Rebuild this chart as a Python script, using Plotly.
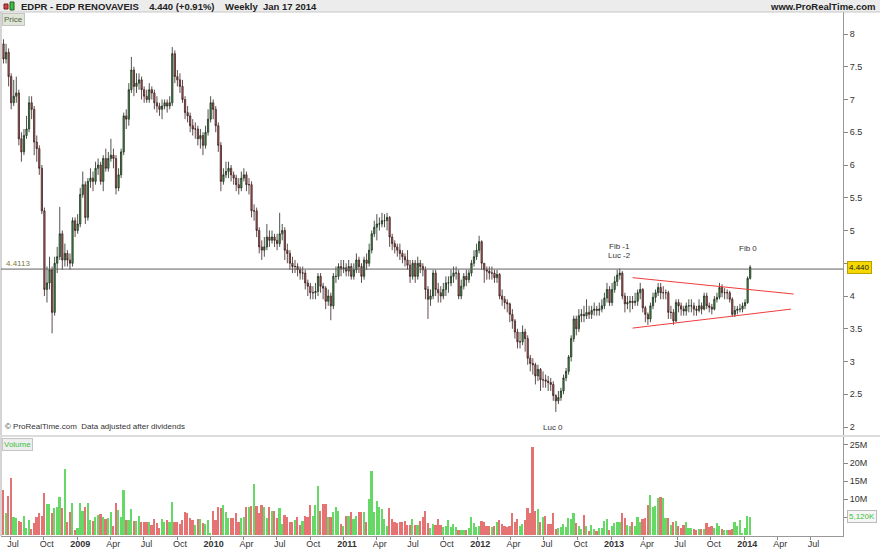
import plotly.graph_objects as go
import pandas as pd

# ---------------- data (weekly, EDPR) ----------------
opens = [7.85,7.62,7.72,7.35,6.95,7.05,7.10,6.40,6.20,6.45,
6.55,6.95,6.85,6.35,6.25,5.95,5.30,4.10,4.20,4.40,
3.75,4.50,4.60,4.95,4.55,4.65,4.55,4.50,5.15,5.00,
5.10,5.55,5.70,5.20,5.75,5.80,5.75,5.95,6.00,5.75,
6.10,5.95,6.10,6.15,6.10,5.65,5.85,6.20,6.75,6.70,
7.15,7.45,7.20,7.25,7.30,7.15,7.05,7.00,7.15,7.10,
6.95,6.90,6.85,6.90,6.95,6.90,6.95,7.70,7.35,7.30,
7.20,7.00,6.80,6.75,6.60,6.55,6.55,6.40,6.45,6.30,
6.50,6.70,6.95,6.85,6.60,6.30,5.75,5.85,5.90,5.95,
5.85,5.80,5.70,5.65,5.80,5.85,5.70,5.70,5.30,5.30,
5.00,4.75,4.70,4.75,4.90,4.85,4.90,4.85,4.80,4.95,
5.00,4.70,4.65,4.50,4.45,4.45,4.40,4.35,4.35,4.20,
4.15,4.05,4.05,4.07,4.30,4.15,4.12,3.92,4.00,3.85,
4.30,4.30,4.45,4.42,4.43,4.38,4.45,4.30,4.40,4.55,
4.45,4.30,4.55,4.50,4.70,4.95,5.05,5.10,5.10,5.15,
5.15,5.20,4.90,4.80,4.75,4.70,4.65,4.60,4.55,4.47,
4.30,4.50,4.30,4.50,4.45,4.40,4.10,3.95,4.00,4.35,
4.10,4.05,4.00,4.10,4.20,4.20,4.30,4.35,4.35,4.00,
4.15,4.30,4.25,4.35,4.50,4.60,4.70,4.83,4.50,4.40,
4.38,4.35,4.35,4.28,4.33,4.00,3.95,3.90,3.88,3.72,
3.62,3.45,3.30,3.30,3.45,3.35,3.05,2.97,2.95,2.78,
2.88,2.72,2.72,2.70,2.68,2.65,2.48,2.40,2.45,2.55,
2.75,2.85,3.07,3.35,3.65,3.50,3.70,3.72,3.70,3.75,
3.72,3.78,3.80,3.78,3.80,3.85,3.97,4.10,3.90,4.10,
4.22,4.32,4.35,4.00,3.88,3.90,3.92,3.90,3.92,4.05,
4.10,3.82,3.72,3.65,3.85,3.98,4.05,4.13,4.05,4.05,
4.05,3.75,3.75,3.62,3.90,3.85,3.80,3.77,3.85,3.85,
3.85,3.80,3.78,3.85,3.80,4.00,3.85,3.83,3.80,3.95,
3.98,4.13,4.05,4.05,4.05,3.95,3.72,3.78,3.80,3.80,
3.85,3.90,4.27]

closes = [7.62,7.72,7.35,6.95,7.05,7.10,6.40,6.20,6.45,6.55,
6.95,6.85,6.35,6.25,5.95,5.30,4.10,4.20,4.40,3.75,
4.50,4.60,4.95,4.55,4.65,4.55,4.50,5.15,5.00,5.10,
5.55,5.70,5.20,5.75,5.80,5.75,5.95,6.00,5.75,6.10,
5.95,6.10,6.15,6.10,5.65,5.85,6.20,6.75,6.70,7.15,
7.45,7.20,7.25,7.30,7.15,7.05,7.00,7.15,7.10,6.95,
6.90,6.85,6.90,6.95,6.90,6.95,7.70,7.35,7.30,7.20,
7.00,6.80,6.75,6.60,6.55,6.55,6.40,6.45,6.30,6.50,
6.70,6.95,6.85,6.60,6.30,5.75,5.85,5.90,5.95,5.85,
5.80,5.70,5.65,5.80,5.85,5.70,5.70,5.30,5.30,5.00,
4.75,4.70,4.75,4.90,4.85,4.90,4.85,4.80,4.95,5.00,
4.70,4.65,4.50,4.45,4.45,4.40,4.35,4.35,4.20,4.15,
4.05,4.05,4.07,4.30,4.15,4.12,3.92,4.00,3.85,4.30,
4.30,4.45,4.42,4.43,4.38,4.45,4.30,4.40,4.55,4.45,
4.30,4.55,4.50,4.70,4.95,5.05,5.10,5.10,5.15,5.15,
5.20,4.90,4.80,4.75,4.70,4.65,4.60,4.55,4.47,4.30,
4.50,4.30,4.50,4.45,4.40,4.10,3.95,4.00,4.35,4.10,
4.05,4.00,4.10,4.20,4.20,4.30,4.35,4.35,4.00,4.15,
4.30,4.25,4.35,4.50,4.60,4.70,4.83,4.50,4.40,4.38,
4.35,4.35,4.28,4.33,4.00,3.95,3.90,3.88,3.72,3.62,
3.45,3.30,3.30,3.45,3.35,3.05,2.97,2.95,2.78,2.88,
2.72,2.72,2.70,2.68,2.65,2.48,2.40,2.45,2.55,2.75,
2.85,3.07,3.35,3.65,3.50,3.70,3.72,3.70,3.75,3.72,
3.78,3.80,3.78,3.80,3.85,3.97,4.10,3.90,4.10,4.22,
4.32,4.35,4.00,3.88,3.90,3.92,3.90,3.92,4.05,4.10,
3.82,3.72,3.65,3.85,3.98,4.05,4.13,4.05,4.05,4.05,
3.75,3.75,3.62,3.90,3.85,3.80,3.77,3.85,3.85,3.85,
3.80,3.78,3.85,3.80,4.00,3.85,3.83,3.80,3.95,3.98,
4.13,4.05,4.05,4.05,3.95,3.72,3.78,3.80,3.80,3.85,
3.90,4.27,4.44]

highs = [7.92,7.85,7.78,7.40,7.30,7.35,7.15,6.50,6.55,6.75,
7.05,7.05,6.90,6.45,6.30,6.00,5.35,4.45,4.60,4.45,
4.60,4.75,5.36,5.00,4.80,4.70,4.65,5.20,5.20,5.25,
5.65,5.90,5.75,5.80,5.95,5.90,6.05,6.10,6.05,6.15,
6.25,6.20,6.40,6.25,6.15,5.95,6.25,6.80,6.85,7.25,
7.65,7.50,7.40,7.40,7.35,7.20,7.15,7.25,7.20,7.15,
7.05,6.95,7.00,7.00,7.00,7.05,7.80,7.75,7.45,7.40,
7.30,7.05,6.90,6.80,6.70,6.65,6.60,6.55,6.50,6.60,
6.85,7.05,7.00,6.90,6.65,6.35,5.95,6.05,6.05,6.00,
5.90,5.85,5.80,5.90,5.95,5.90,5.80,5.75,5.40,5.35,
5.05,4.85,4.90,5.10,5.00,5.00,4.95,4.95,5.27,5.10,
5.05,4.80,4.70,4.60,4.55,4.50,4.45,4.45,4.40,4.25,
4.20,4.15,4.20,4.35,4.35,4.20,4.15,4.10,4.05,4.35,
4.45,4.50,4.55,4.55,4.50,4.55,4.50,4.50,4.65,4.60,
4.50,4.60,4.65,4.80,5.00,5.15,5.25,5.20,5.27,5.25,
5.27,5.22,4.95,4.85,4.80,4.80,4.70,4.65,4.70,4.55,
4.55,4.55,4.60,4.55,4.50,4.45,4.15,4.10,4.40,4.40,
4.20,4.15,4.20,4.30,4.30,4.40,4.45,4.45,4.40,4.25,
4.35,4.40,4.40,4.55,4.70,4.80,4.92,4.85,4.50,4.45,
4.45,4.45,4.40,4.40,4.35,4.10,4.00,3.95,3.90,3.80,
3.65,3.50,3.45,3.55,3.50,3.40,3.10,3.05,2.98,2.95,
2.90,2.85,2.80,2.78,2.75,2.70,2.50,2.55,2.60,2.80,
2.90,3.10,3.40,3.70,3.70,3.80,3.80,3.85,3.95,3.85,
3.85,3.90,3.85,3.90,3.95,4.05,4.20,4.15,4.20,4.30,
4.40,4.42,4.38,4.05,4.00,4.00,4.00,4.05,4.10,4.20,
4.12,3.85,3.75,3.90,4.05,4.10,4.20,4.20,4.15,4.10,
4.08,3.85,3.80,3.95,3.95,3.90,3.85,3.90,3.95,3.95,
3.90,3.85,3.95,3.90,4.05,4.05,3.90,3.88,4.00,4.05,
4.20,4.18,4.12,4.10,4.08,3.98,3.85,3.85,3.88,3.90,
3.95,4.30,4.47]

lows = [7.55,7.55,7.20,6.85,6.90,6.95,6.30,6.05,6.15,6.40,
6.50,6.70,6.15,6.05,5.85,5.25,4.00,3.90,4.10,3.43,
3.70,4.35,4.55,4.40,4.45,4.45,4.40,4.45,4.90,4.95,
5.05,5.50,5.10,5.15,5.65,5.60,5.70,5.85,5.70,5.60,
5.90,5.90,6.05,5.95,5.55,5.60,5.80,6.15,6.55,6.60,
7.10,7.05,7.10,7.15,7.00,6.95,6.95,6.95,7.00,6.85,
6.80,6.75,6.70,6.85,6.80,6.85,6.90,7.25,7.20,7.10,
6.95,6.70,6.65,6.50,6.45,6.40,6.30,6.25,6.15,6.25,
6.45,6.65,6.70,6.50,6.20,5.60,5.70,5.80,5.80,5.75,
5.70,5.60,5.55,5.60,5.75,5.60,5.55,5.20,5.15,4.90,
4.65,4.55,4.60,4.70,4.75,4.80,4.75,4.70,4.75,4.85,
4.55,4.50,4.40,4.35,4.35,4.30,4.25,4.25,4.10,4.00,
3.95,3.95,3.95,4.00,4.05,3.95,3.80,3.85,3.63,3.80,
4.20,4.25,4.30,4.35,4.30,4.30,4.25,4.25,4.35,4.35,
4.20,4.25,4.40,4.45,4.65,4.90,4.85,5.00,5.05,5.05,
5.00,4.75,4.70,4.65,4.60,4.55,4.50,4.45,4.40,4.20,
4.25,4.20,4.25,4.35,4.30,3.95,3.65,3.85,3.95,4.00,
3.90,3.90,3.95,4.00,4.05,4.15,4.20,4.25,3.95,3.95,
4.10,4.15,4.20,4.30,4.45,4.55,4.65,4.40,4.20,4.25,
4.25,4.25,4.20,4.20,3.95,3.85,3.80,3.75,3.60,3.50,
3.35,3.20,3.20,3.25,3.15,2.95,2.85,2.80,2.65,2.70,
2.55,2.60,2.60,2.55,2.55,2.40,2.23,2.35,2.40,2.50,
2.70,2.80,3.00,3.30,3.40,3.45,3.60,3.60,3.65,3.65,
3.65,3.70,3.70,3.70,3.75,3.80,3.90,3.85,3.85,4.05,
4.15,4.25,3.95,3.75,3.80,3.75,3.80,3.85,3.85,3.95,
3.75,3.60,3.56,3.60,3.80,3.90,4.00,3.95,3.95,3.95,
3.65,3.65,3.56,3.60,3.75,3.70,3.70,3.70,3.75,3.75,
3.70,3.70,3.75,3.72,3.78,3.80,3.75,3.72,3.78,3.90,
3.95,3.98,3.95,3.95,3.90,3.68,3.68,3.72,3.75,3.75,
3.80,3.88,4.25]

volumes_m = [12.7,6.1,10.9,15.8,5.0,4.9,4.1,3.8,5.5,2.2,
4.3,1.7,3.4,5.0,6.1,5.5,11.7,8.7,8.7,6.1,
7.5,7.8,10.5,7.6,18.3,3.6,6.6,8.9,1.5,2.2,
9.1,6.9,7.8,9.1,4.3,4.1,5.0,5.7,5.8,5.2,
4.5,4.7,6.6,2.6,8.9,7.0,5.0,12.7,4.3,4.3,
7.2,4.1,4.1,5.5,3.8,3.6,3.6,3.6,2.9,4.5,
3.5,2.2,4.5,3.8,4.3,3.8,9.3,3.8,3.6,3.2,
4.3,6.6,6.1,4.9,4.3,2.9,4.5,4.5,3.4,3.2,
4.3,0.8,6.9,4.3,8.0,7.5,8.4,6.6,4.7,4.7,
4.7,6.1,3.8,4.7,5.2,8.0,7.8,8.2,14.2,8.2,
6.1,8.4,7.8,4.7,7.8,6.9,6.9,4.7,7.5,3.2,
5.7,5.0,3.8,
3.6,4.3,5.0,2.9,4.1,5.4,5.0,8.3,5.4,8.4,
13.7,6.9,8.7,8.7,5.0,5.2,6.6,7.8,6.9,3.2,
2.5,5.5,5.5,6.6,4.6,5.4,6.6,6.6,6.6,3.8,
10.0,17.8,6.6,9.5,7.8,7.3,4.5,2.6,7.7,4.5,
3.8,3.4,3.8,3.8,4.1,2.9,2.9,4.6,2.9,2.9,
4.1,5.0,6.8,3.4,2.0,3.2,2.9,4.6,2.9,2.3,
2.6,4.3,2.3,3.2,2.3,1.6,1.4,1.4,1.4,2.0,
5.2,3.4,2.3,2.6,4.0,3.8,2.6,2.6,2.3,2.5,
3.8,4.3,3.2,2.5,2.3,2.6,6.1,3.8,4.5,2.6,
3.2,4.3,7.5,
6.3,24.4,6.8,7.3,3.7,5.0,5.4,3.2,3.2,6.3,
1.9,2.2,2.3,3.2,2.3,4.8,4.6,6.3,3.4,2.5,
1.7,5.7,2.5,1.3,2.9,1.7,1.3,2.0,2.2,4.0,
4.6,1.4,2.6,3.4,3.7,3.7,6.1,4.9,2.9,2.6,
3.8,2.5,5.0,3.6,4.6,4.9,8.4,11.2,8.0,8.2,
10.3,10.6,10.3,4.9,4.8,2.9,3.8,4.0,2.6,2.2,
2.8,3.8,2.0,2.0,1.7,1.6,1.9,1.7,1.7,3.4,
2.3,2.5,2.2,3.4,2.5,1.7,1.6,1.6,1.6,1.7,
3.8,2.6,4.3,0.7,2.0,5.4,5.12]

price_ticks = [2, 2.5, 3, 3.5, 4, 4.5, 5, 5.5, 6, 6.5, 7, 7.5, 8]
price_tick_text = ["2", "2.5", "3", "3.5", "4", "", "5", "5.5", "6", "6.5", "7", "7.5", "8"]
vol_ticks_m = [5, 10, 15, 20, 25]
vol_tick_text = ["", "10M", "15M", "20M", "25M"]
x_tick_dates = ["2008-07-01", "2008-10-01", "2009-01-01", "2009-04-01", "2009-07-01",
                "2009-10-01", "2010-01-01", "2010-04-01", "2010-07-01", "2010-10-01",
                "2011-01-01", "2011-04-01", "2011-07-01", "2011-10-01", "2012-01-01",
                "2012-04-01", "2012-07-01", "2012-10-01", "2013-01-01", "2013-04-01",
                "2013-07-01", "2013-10-01", "2014-01-01", "2014-04-01", "2014-07-01"]
x_tick_text = ["Jul", "Oct", "<b>2009</b>", "Apr", "Jul", "Oct", "<b>2010</b>", "Apr", "Jul", "Oct",
               "<b>2011</b>", "Apr", "Jul", "Oct", "<b>2012</b>", "Apr", "Jul", "Oct",
               "<b>2013</b>", "Apr", "Jul", "Oct", "<b>2014</b>", "Apr", "Jul"]
ref_level = 4.4113
last_price = 4.44

dates = pd.date_range(end="2014-01-17", periods=len(closes), freq="W-FRI")
volumes = [v * 1e6 for v in volumes_m]
up = [c >= o for o, c in zip(opens, closes)]
vol_colors = ["#66d866" if u else "#e67373" for u in up]

FONT = "Liberation Sans, Arial, sans-serif"
W, H = 880, 550
ML, MR, MT, MB = 1, 37, 12, 14
PW, PH = W - ML - MR, H - MT - MB


def px(xp):
    return (xp - ML) / PW


def py(yp):
    return (H - MB - yp) / PH


fig = go.Figure()
fig.add_trace(go.Candlestick(
    x=dates, open=opens, high=highs, low=lows, close=closes,
    increasing=dict(line=dict(color="#1e2a1e", width=0.8), fillcolor="#3fae3f"),
    decreasing=dict(line=dict(color="#3a1e1e", width=0.8), fillcolor="#c86464"),
    whiskerwidth=0, xaxis="x", yaxis="y", showlegend=False, hoverinfo="skip"))

fig.add_trace(go.Bar(
    x=dates, y=volumes, marker=dict(color=vol_colors, line=dict(width=0)),
    width=4.6 * 86400000, xaxis="x2", yaxis="y2", showlegend=False, hoverinfo="skip"))

x0 = dates[0] - pd.Timedelta(days=7 * 0.98)
x1 = dates[0] + pd.Timedelta(days=7 * 328.3)

axis_font = dict(family=FONT, size=9, color="#333333")
fig.update_layout(
    width=W, height=H, margin=dict(l=ML, r=MR, t=MT, b=MB, autoexpand=False),
    paper_bgcolor="white", plot_bgcolor="white",
    font=dict(family=FONT, size=9, color="#333"),
    xaxis=dict(domain=[0, 1], range=[x0, x1], anchor="y", showticklabels=False,
               showgrid=False, zeroline=False, rangeslider=dict(visible=False),
               showline=False, automargin=False),
    yaxis=dict(domain=[py(435), 1], range=[1.878, 8.336], side="right",
               tickvals=price_ticks, ticktext=price_tick_text,
               ticks="outside", ticklen=4, tickcolor="#888", tickfont=axis_font,
               showgrid=False, zeroline=False, showline=True, linecolor="#999",
               linewidth=1, automargin=False),
    xaxis2=dict(domain=[0, 1], range=[x0, x1], anchor="y2", tickvals=x_tick_dates,
                ticktext=x_tick_text, ticks="outside", ticklen=3, tickcolor="#888",
                tickfont=axis_font, showgrid=False, zeroline=False, showline=True,
                linecolor="#999", automargin=False, ticklabelstandoff=-4,
                ticklabelshift=3),
    yaxis2=dict(domain=[0, py(437)], range=[-0.14e6, 27.2e6], side="right",
                tickvals=[v * 1e6 for v in vol_ticks_m], ticktext=vol_tick_text,
                ticks="outside", ticklen=4, tickcolor="#888", tickfont=axis_font,
                showgrid=False, zeroline=False, showline=True, linecolor="#999",
                automargin=False),
    bargap=0,
)

shapes = []
shapes.append(dict(type="rect", xref="paper", yref="paper", x0=px(0), x1=px(880),
                   y0=py(12), y1=py(0), fillcolor="#ececec", line=dict(width=0), layer="below"))
shapes.append(dict(type="line", xref="paper", yref="paper", x0=px(0), x1=px(880),
                   y0=py(12), y1=py(12), line=dict(color="#c8c8c8", width=1)))
shapes.append(dict(type="rect", xref="paper", yref="paper", x0=px(4), x1=px(8),
                   y0=py(9), y1=py(4), fillcolor="#d84040", line=dict(color="#702020", width=1)))
shapes.append(dict(type="rect", xref="paper", yref="paper", x0=px(10), x1=px(14),
                   y0=py(10), y1=py(2), fillcolor="#40c040", line=dict(color="#206020", width=1)))
shapes.append(dict(type="line", xref="paper", yref="paper", x0=px(1), x1=px(1),
                   y0=0, y1=1, line=dict(color="#aaaaaa", width=1)))
shapes.append(dict(type="rect", xref="paper", yref="paper", x0=px(0), x1=px(880),
                   y0=py(437), y1=py(435), fillcolor="#dcdcdc", line=dict(width=0)))
shapes.append(dict(type="line", xref="x", yref="y", x0=x0, x1=x1, y0=ref_level, y1=ref_level,
                   line=dict(color="#606060", width=1)))
shapes.append(dict(type="line", xref="x", yref="y", x0="2013-03-01", y0=4.28,
                   x1="2014-05-16", y1=4.03, line=dict(color="#f03c3c", width=1)))
shapes.append(dict(type="line", xref="x", yref="y", x0="2013-03-01", y0=3.51,
                   x1="2014-05-09", y1=3.80, line=dict(color="#f03c3c", width=1)))
fig.update_layout(shapes=shapes)

small = dict(family=FONT, size=8, color="#333")
ann = []
ann.append(dict(x=px(19), y=py(6.5), xref="paper", yref="paper", xanchor="left", yanchor="middle",
                text="<b>EDPR - EDP RENOVAVEIS</b>    <b>4.440 (+0.91%)</b>    <b>Weekly  Jan 17 2014</b>",
                showarrow=False, font=dict(family=FONT, size=9.5, color="#222")))
ann.append(dict(x=px(878), y=py(6.5), xref="paper", yref="paper", xanchor="right", yanchor="middle",
                text="<b>www.ProRealTime.com</b>", showarrow=False,
                font=dict(family=FONT, size=9.5, color="#222")))
ann.append(dict(x=px(2), y=py(13), xref="paper", yref="paper", xanchor="left", yanchor="top",
                text="Price", showarrow=False, bgcolor="#dfe6d8", bordercolor="#c4c4c4",
                borderwidth=1, borderpad=1, font=dict(family=FONT, size=8, color="#506040")))
ann.append(dict(x=px(2), y=py(438), xref="paper", yref="paper", xanchor="left", yanchor="top",
                text="Volume", showarrow=False, bgcolor="#eeeeee", bordercolor="#c4c4c4",
                borderwidth=1, borderpad=1, font=dict(family=FONT, size=8, color="#40c040")))
ann.append(dict(x=px(3), y=py(433), xref="paper", yref="paper", xanchor="left", yanchor="bottom",
                text="© ProRealTime.com  Data adjusted after dividends", showarrow=False,
                font=dict(family=FONT, size=8, color="#333")))
ann.append(dict(x=px(4), y=ref_level, xref="paper", yref="y", xanchor="left", yanchor="bottom",
                text=f"{ref_level}", showarrow=False, yshift=-1,
                font=dict(family=FONT, size=8, color="#7a7a3a")))
ann.append(dict(x=px(847), y=last_price, xref="paper", yref="y", xanchor="left", yanchor="middle",
                text=f"{last_price:.3f}", showarrow=False, bgcolor="#f5d800", bordercolor="#b8a000",
                borderwidth=1, borderpad=1, font=dict(family=FONT, size=8, color="#222")))
ann.append(dict(x=px(847), y=volumes[-1], xref="paper", yref="y2", xanchor="left", yanchor="middle",
                text="5,120K", showarrow=False, bgcolor="#f6f6f6", bordercolor="#bbbbbb",
                borderwidth=1, borderpad=1, font=dict(family=FONT, size=8, color="#40c040")))
for txt, d, lvl in [("Fib -1", "2013-01-25", 4.75), ("Luc -2", "2013-01-25", 4.62),
                    ("Fib 0", "2014-01-10", 4.72), ("Luc 0", "2012-07-27", 2.0)]:
    ann.append(dict(x=d, y=lvl, xref="x", yref="y", text=txt, showarrow=False,
                    font=small, xanchor="center", yanchor="middle"))
fig.update_layout(annotations=ann)

fig.write_html("out.html", config={"displayModeBar": False},
               post_script="document.body.style.margin='0px';document.body.style.overflow='hidden';")
